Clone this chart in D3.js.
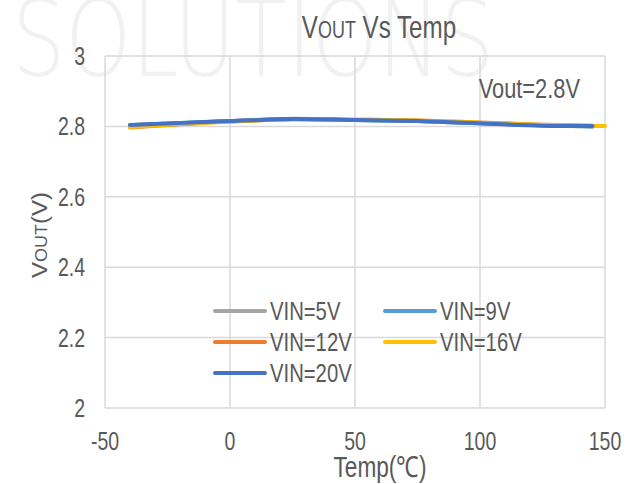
<!DOCTYPE html>
<html>
<head>
<meta charset="utf-8">
<title>Vout Vs Temp</title>
<script src="https://d3js.org/d3.v7.min.js"></script>
<style>
	body {
		margin: 0;
		background: #fff;
	}
	text {
		font-family: "Liberation Sans", Arial, sans-serif;
		fill: #595959;
	}
	.grid line {
		stroke: #d9d9d9;
		stroke-width: 1.5px;
	}
	.series {
		fill: none;
		stroke-width: 4px;
		stroke-linecap: round;
	}
</style>
</head>
<body>
<script>
	var width = 627,
			height = 484,
			margin = { top: 56, right: 22, bottom: 76, left: 105 },
			squeeze = 0.78; // the picture looks stretched tall, so squeeze text sideways

	// data
	var temps = [-40, -20, 0, 25, 50, 75, 100, 125, 145];
	var temps16 = [-40, -20, 0, 25, 50, 75, 100, 125, 145, 150];
	var vin5 = [2.803, 2.809, 2.815, 2.822, 2.818, 2.815, 2.809, 2.803, 2.800];
	var vin9 = [2.803, 2.809, 2.815, 2.821, 2.818, 2.815, 2.809, 2.803, 2.800];
	var vin12 = [2.797, 2.806, 2.814, 2.820, 2.819, 2.817, 2.811, 2.805, 2.802];
	var vin16 = [2.798, 2.807, 2.814, 2.820, 2.819, 2.817, 2.810, 2.804, 2.801, 2.801];
	var vin20 = [2.804, 2.810, 2.815, 2.821, 2.818, 2.815, 2.809, 2.802, 2.801];

	var xTicks = [-50, 0, 50, 100, 150];
	var yTicks = [2, 2.2, 2.4, 2.6, 2.8, 3];

	var series = [
		{ name: "VIN=5V", color: "#a5a5a5", x: temps, y: vin5 },
		{ name: "VIN=9V", color: "#5b9bd5", x: temps, y: vin9 },
		{ name: "VIN=12V", color: "#ed7d31", x: temps, y: vin12 },
		{ name: "VIN=16V", color: "#ffc000", x: temps16, y: vin16 },
		{ name: "VIN=20V", color: "#4472c4", x: temps, y: vin20 }
	];

	var svg = d3.select("body").append("svg")
			.attr("width", width)
			.attr("height", height);

	// faint watermark behind everything
	svg.append("text")
			.attr("transform", "translate(12,76) scale(1,1.35)")
			.attr("textLength", 482)
			.attr("lengthAdjust", "spacingAndGlyphs")
			.style("font-family", "DejaVu Sans")
			.style("font-weight", 200)
			.style("font-size", "78px")
			.style("fill", "#f1f1f1")
			.text("SOLUTIONS");

	function narrow(sel, px, py, size, anchor, rotate) {
		var t = "translate(" + px + "," + py + ")" +
				(rotate ? " rotate(-90) scale(1,0.9)" : " scale(" + squeeze + ",1)");
		return sel.append("text")
				.attr("transform", t)
				.attr("text-anchor", anchor)
				.style("font-size", size + "px");
	}

	var x = d3.scaleLinear()
			.domain([-50, 150])
			.range([margin.left, width - margin.right]);

	var y = d3.scaleLinear()
			.domain([2, 3])
			.range([height - margin.bottom, margin.top]);

	var grid = svg.append("g").attr("class", "grid");

	grid.selectAll(".h").data(yTicks).enter().append("line")
			.attr("class", "h")
			.attr("x1", x(-50))
			.attr("x2", x(150))
			.attr("y1", function(d) { return y(d); })
			.attr("y2", function(d) { return y(d); });

	grid.selectAll(".v").data(xTicks).enter().append("line")
			.attr("class", "v")
			.attr("x1", function(d) { return x(d); })
			.attr("x2", function(d) { return x(d); })
			.attr("y1", y(3))
			.attr("y2", y(2));

	// tick labels
	var xLabels = svg.append("g");
	xTicks.forEach(function(d) {
		narrow(xLabels, x(d), y(2) + 42, 25, "middle").text(d);
	});

	var yLabels = svg.append("g");
	yTicks.forEach(function(d) {
		narrow(yLabels, x(-50) - 20, y(d) + 9, 25, "end").text(d3.format("~g")(d));
	});

	// titles
	var title = narrow(svg, 379, 38, 31, "middle");
	title.append("tspan").text("V");
	title.append("tspan").style("font-size", "23px").text("OUT");
	title.append("tspan").text(" Vs Temp");

	var yLabel = narrow(svg, 47, 235, 24, "middle", true);
	yLabel.append("tspan").text("V");
	yLabel.append("tspan").style("font-size", "18px").text("OUT");
	yLabel.append("tspan").text("(V)");

	narrow(svg, 380, 477, 29, "middle").text("Temp(℃)");

	narrow(svg, 580, 98, 28, "end").text("Vout=2.8V");

	// legend
	var legendPos = [[213, 311], [383, 311], [213, 342], [383, 342], [213, 373]];
	var legend = svg.append("g").selectAll("g").data(series).enter().append("g")
			.attr("transform", function(d, i) { return "translate(" + legendPos[i] + ")"; });

	legend.append("line")
			.attr("x1", 2)
			.attr("x2", 52)
			.style("stroke", function(d) { return d.color; })
			.style("stroke-width", 4)
			.style("stroke-linecap", "round");

	legend.each(function(d) {
		narrow(d3.select(this), 57, 9, 26, "start").text(d.name);
	});

	// lines
	var line = d3.line()
			.curve(d3.curveCatmullRom)
			.x(function(d) { return x(d[0]); })
			.y(function(d) { return y(d[1]); });

	svg.append("g").selectAll("path").data(series).enter().append("path")
			.attr("class", "series")
			.style("stroke", function(d) { return d.color; })
			.attr("d", function(d) { return line(d3.zip(d.x, d.y)); });
</script>
</body>
</html>
